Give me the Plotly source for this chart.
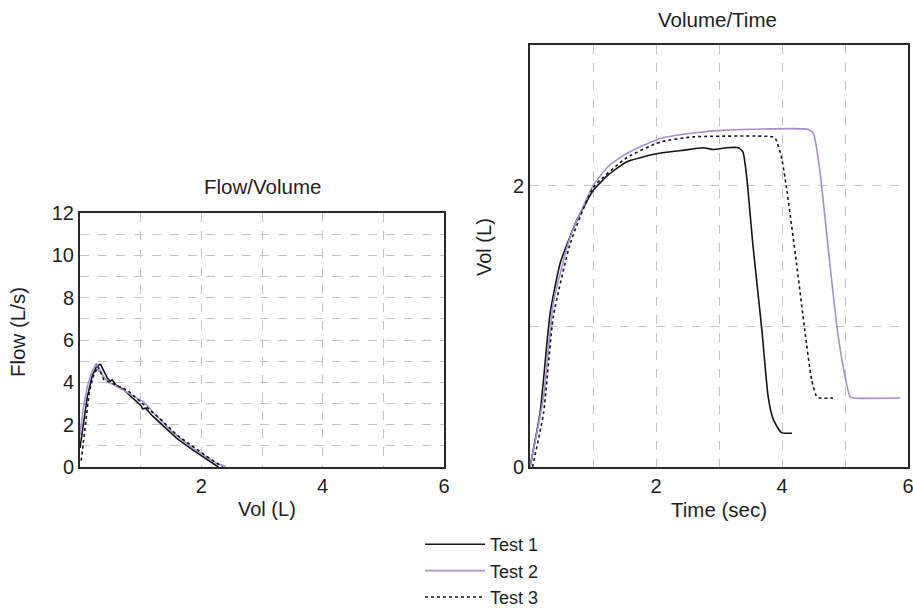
import plotly.graph_objects as go

# ---------- data ----------
series_names = ["Test 1", "Test 2", "Test 3"]

fv_vol_1 = [0.0, 0.05, 0.12, 0.2, 0.28, 0.34, 0.4, 0.45, 0.5, 0.53, 0.6, 0.72, 0.85, 1.0, 1.03, 1.08, 1.2, 1.33, 1.6, 1.87, 2.05, 2.15, 2.28]
fv_flow_1 = [0.9, 2.0, 3.3, 4.3, 4.8, 4.85, 4.5, 4.2, 4.05, 4.12, 3.85, 3.67, 3.3, 2.92, 2.75, 2.78, 2.4, 2.05, 1.34, 0.79, 0.45, 0.24, 0.0]

fv_vol_2 = [0.0, 0.05, 0.12, 0.2, 0.27, 0.31, 0.33, 0.38, 0.45, 0.55, 0.67, 0.85, 1.05, 1.2, 1.49, 1.7, 1.87, 2.1, 2.26, 2.4]
fv_flow_2 = [1.5, 2.7, 3.8, 4.5, 4.9, 4.5, 4.6, 4.3, 4.03, 3.9, 3.7, 3.4, 3.08, 2.6, 1.74, 1.25, 0.87, 0.45, 0.16, 0.03]

fv_vol_3 = [0.02, 0.04, 0.15, 0.22, 0.30, 0.39, 0.5, 0.65, 0.78, 0.95, 1.11, 1.35, 1.6, 1.98, 2.15, 2.31, 2.35]
fv_flow_3 = [0.3, 0.79, 3.48, 4.3, 4.75, 4.14, 4.0, 3.8, 3.63, 3.2, 2.8, 2.2, 1.5, 0.71, 0.38, 0.08, 0.0]

vt_time_1 = [0, 0.16, 0.32, 0.48, 0.745, 1.01, 1.25, 1.54, 1.99, 2.4, 2.75, 2.91, 3.12, 3.31, 3.38, 3.44, 3.54, 3.68, 3.78, 3.86, 3.99, 4.16]
vt_vol_1 = [0, 0.386, 1.095, 1.45, 1.757, 1.97, 2.08, 2.17, 2.225, 2.25, 2.27, 2.257, 2.27, 2.27, 2.24, 2.06, 1.57, 0.977, 0.50, 0.34, 0.244, 0.24]

vt_time_2 = [0, 0.216, 0.37, 0.64, 1.01, 1.25, 1.54, 2.065, 2.6, 3.12, 4.42, 4.50, 4.60, 4.73, 4.865, 4.97, 5.08, 5.13, 5.88]
vt_vol_2 = [0, 0.5, 1.166, 1.638, 2.005, 2.14, 2.23, 2.336, 2.375, 2.395, 2.40, 2.37, 2.11, 1.57, 1.02, 0.716, 0.5, 0.49, 0.49]

vt_time_3 = [0.04, 0.216, 0.37, 0.64, 1.01, 1.54, 2.065, 2.59, 3.81, 3.89, 3.99, 4.07, 4.23, 4.36, 4.47, 4.55, 4.6, 4.81]
vt_vol_3 = [0, 0.386, 1.07, 1.59, 1.99, 2.20, 2.31, 2.347, 2.35, 2.34, 2.206, 1.99, 1.45, 0.977, 0.62, 0.5, 0.49, 0.49]

x_tick_vals = [0, 1, 2, 3, 4, 5, 6]
x_tick_text = ["", "", "2", "", "4", "", "6"]
fv_y_tick_vals = list(range(0, 13))
fv_y_tick_text = ["0", "", "2", "", "4", "", "6", "", "8", "", "10", "", "12"]
vt_y_tick_vals = [0, 1, 2, 3]
vt_y_tick_text = ["0", "", "2", ""]

# ---------- styles ----------
W, H = 913, 608
FONT = "Liberation Sans, Arial, sans-serif"
TXT = "#1e1e1e"
C1, C2, C3 = "#141414", "#a48fd4", "#141414"
GRID = "#c4c4c4"
BORDER = "#2a2a2a"

fig = go.Figure()

fv_sets = [(fv_vol_1, fv_flow_1), (fv_vol_2, fv_flow_2), (fv_vol_3, fv_flow_3)]
vt_sets = [(vt_time_1, vt_vol_1), (vt_time_2, vt_vol_2), (vt_time_3, vt_vol_3)]
colors = [C1, C2, C3]
dashes = ["solid", "solid", "dot"]

for i, name in enumerate(series_names):
    x, y = fv_sets[i]
    fig.add_trace(go.Scatter(x=x, y=y, mode="lines", name=name, legendgroup=name,
                             showlegend=True, xaxis="x", yaxis="y",
                             line=dict(color=colors[i], width=1.6, dash=dashes[i])))
for i, name in enumerate(series_names):
    x, y = vt_sets[i]
    fig.add_trace(go.Scatter(x=x, y=y, mode="lines", name=name, legendgroup=name,
                             showlegend=False, xaxis="x2", yaxis="y2",
                             line=dict(color=colors[i], width=1.6, dash=dashes[i],
                                       shape="spline", smoothing=0.5)))

def px_x(p):
    return p / W

def px_y(p):
    return 1 - p / H

axis_common = dict(showgrid=True, gridcolor=GRID, griddash="dash", gridwidth=1,
                   showline=True, linecolor=BORDER, linewidth=2, mirror=True,
                   ticks="", zeroline=False, fixedrange=True,
                   ticklabeloverflow="allow",
                   tickfont=dict(family=FONT, size=20, color=TXT))

fig.update_layout(
    width=W, height=H,
    margin=dict(l=0, r=0, t=0, b=0, autoexpand=False),
    paper_bgcolor="white", plot_bgcolor="white",
    font=dict(family=FONT, size=20, color=TXT),
    xaxis=dict(domain=[px_x(80), px_x(444)], range=[0, 6], anchor="y",
               tickvals=x_tick_vals, ticktext=x_tick_text, **axis_common),
    yaxis=dict(domain=[px_y(467), px_y(213)], range=[0, 12], anchor="x",
               tickvals=fv_y_tick_vals, ticktext=fv_y_tick_text, **axis_common),
    xaxis2=dict(domain=[px_x(530), px_x(908)], range=[0, 6], anchor="y2",
                tickvals=x_tick_vals, ticktext=x_tick_text, **axis_common),
    yaxis2=dict(domain=[px_y(467), px_y(45)], range=[0, 3], anchor="x2",
                tickvals=vt_y_tick_vals, ticktext=vt_y_tick_text, **axis_common),
    showlegend=True,
    legend=dict(x=px_x(420), y=px_y(526), xanchor="left", yanchor="top",
                itemwidth=60, tracegroupgap=0, bgcolor="rgba(0,0,0,0)",
                font=dict(family=FONT, size=18, color=TXT)),
)

ann = [
    dict(text="Flow/Volume", x=px_x(262), y=px_y(186), size=20.5),
    dict(text="Volume/Time", x=px_x(717), y=px_y(19), size=20.5),
    dict(text="Vol (L)", x=px_x(267), y=px_y(509), size=20),
    dict(text="Time (sec)", x=px_x(719), y=px_y(509), size=20.5),
]
for a in ann:
    fig.add_annotation(text=a["text"], x=a["x"], y=a["y"], xref="paper", yref="paper",
                       showarrow=False, xanchor="center", yanchor="middle",
                       font=dict(family=FONT, size=a["size"], color=TXT))
fig.add_annotation(text="Flow (L/s)", x=px_x(17), y=px_y(332), xref="paper", yref="paper",
                   showarrow=False, textangle=-90, xanchor="center", yanchor="middle",
                   font=dict(family=FONT, size=20.5, color=TXT))
fig.add_annotation(text="Vol (L)", x=px_x(484), y=px_y(247), xref="paper", yref="paper",
                   showarrow=False, textangle=-90, xanchor="center", yanchor="middle",
                   font=dict(family=FONT, size=20, color=TXT))

fig.write_html("out.html")
